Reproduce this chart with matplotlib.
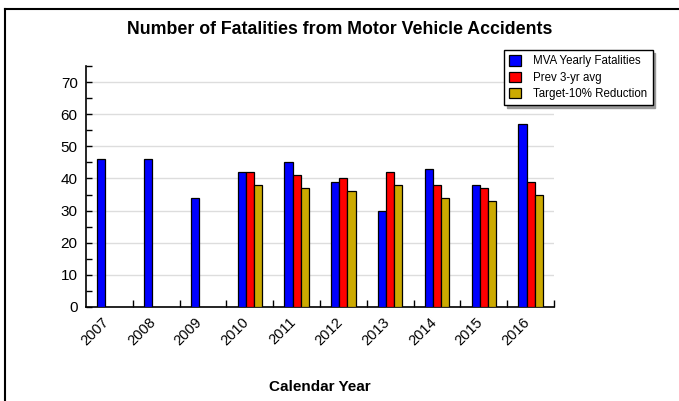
import matplotlib
matplotlib.use("Agg")
import matplotlib.pyplot as plt
from matplotlib.lines import Line2D
from matplotlib.ticker import MultipleLocator, FixedLocator, NullFormatter
import numpy as np

plt.rcParams['font.family'] = ['Liberation Sans', 'DejaVu Sans']

years = ["2007", "2008", "2009", "2010", "2011", "2012", "2013", "2014", "2015", "2016"]
mva = [46, 46, 34, 42, 45, 39, 30, 43, 38, 57]
prev3 = [None, None, None, 42, 41, 40, 42, 38, 37, 39]
target = [None, None, None, 38, 37, 36, 38, 34, 33, 35]

series = [("MVA Yearly Fatalities", mva, "#0000FF"),
          ("Prev 3-yr avg", prev3, "#FF0000"),
          ("Target-10% Reduction", target, "#CCAA00")]

fig = plt.figure(figsize=(6.79, 4.01), dpi=100)
ax = fig.add_axes([86/679, 1-307/401, (554-86)/679, (307-66)/401])

x = np.arange(len(years))
w = 0.175
offsets = [-w, 0, w]
handles = []
for (name, vals, col), off in zip(series, offsets):
    xs = [xi + off for xi, v in zip(x, vals) if v is not None]
    vs = [v for v in vals if v is not None]
    b = ax.bar(xs, vs, width=w, color=col, edgecolor="black", linewidth=0.9, label=name, zorder=3)
    handles.append(b)

ax.set_xlim(-0.5, len(years) - 0.5)
ax.set_ylim(0, 75)
ax.yaxis.set_major_locator(FixedLocator([0, 10, 20, 30, 40, 50, 60, 70]))
ax.yaxis.set_minor_locator(MultipleLocator(5))
ax.yaxis.set_minor_formatter(NullFormatter())
ax.grid(axis='y', which='major', color='#DDDDDD', linewidth=1, zorder=0)

# label anchors sit slightly left of group centres, as in the reference
ax.set_xticks(x - 0.17)
ax.set_xticklabels(years, rotation=45, ha='right', rotation_mode='anchor', fontsize=10.5)
ax.xaxis.set_minor_locator(FixedLocator(np.arange(0.5, len(years), 1.0)))
ax.tick_params(axis='x', which='major', length=0, pad=6)
ax.tick_params(axis='x', which='minor', direction='in', length=5, width=1, color='black')
ax.tick_params(axis='y', which='both', direction='in', length=4, width=1, labelsize=11, pad=6)

for s in ['top', 'right']:
    ax.spines[s].set_visible(False)
for s in ['left', 'bottom']:
    ax.spines[s].set_linewidth(1.2)

fig.text(340/679, 1-30/401, "Number of Fatalities from Motor Vehicle Accidents",
         ha='center', va='center', fontsize=12.8, fontweight='bold')
fig.text(320/679, 1-387/401, "Calendar Year", ha='center', va='center',
         fontsize=11, fontweight='bold')

leg = fig.legend(handles=handles, loc='upper left', bbox_to_anchor=(504/679, 1-50/401),
                 prop={'size': 8.3}, frameon=True, fancybox=False,
                 shadow={'color': '#999999', 'alpha': 1},
                 edgecolor='black', borderpad=0.45, labelspacing=0.38, handlelength=1.05,
                 handleheight=1.0, handletextpad=1.05, borderaxespad=0)
leg.get_frame().set_linewidth(1.0)

# outer frame (top and left edges)
fig.add_artist(Line2D([5/679, 1.0], [1-9/401, 1-9/401], transform=fig.transFigure,
                      color='black', linewidth=1.5))
fig.add_artist(Line2D([5/679, 5/679], [0, 1-9/401], transform=fig.transFigure,
                      color='black', linewidth=1.5))

fig.savefig("out.png", dpi=100)
